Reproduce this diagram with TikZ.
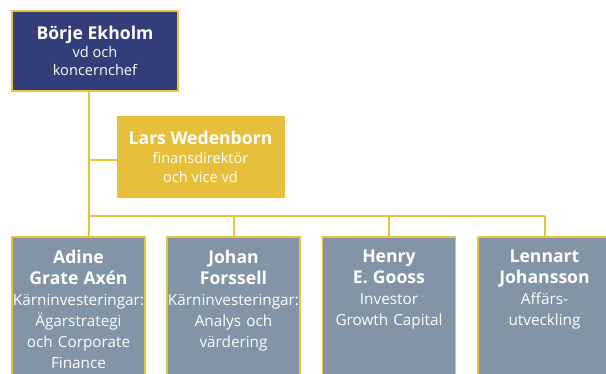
\documentclass[tikz,border=0pt]{standalone}
\usepackage{fontspec}
\setmainfont{Open Sans}
\usetikzlibrary{calc}
\definecolor{chefblue}{RGB}{51,61,122}
\definecolor{cfogold}{RGB}{230,192,58}
\definecolor{unitgrey}{RGB}{130,148,166}
\definecolor{linkgold}{RGB}{232,195,60}
\newcommand{\chefname}[1]{{\fontsize{17.6}{19}\selectfont\bfseries #1}}
\newcommand{\unitname}[1]{{\fontsize{17.6}{21}\selectfont\bfseries #1}}

\begin{document}
\begin{tikzpicture}[x=1pt,y=-1pt,
    link/.style={linkgold,line width=2pt},
    chef/.style={draw=linkgold,line width=1.5pt,fill=chefblue,text=white,
      minimum width=166pt,minimum height=80pt,inner sep=0pt,align=center,
      font=\fontsize{14.6}{18}\selectfont},
    cfo/.style={draw=cfogold,fill=cfogold,text=white,
      minimum width=167pt,minimum height=81pt,inner sep=0pt,align=center,
      font=\fontsize{14.6}{19}\selectfont},
    unit/.style={draw=linkgold,line width=1.5pt,fill=unitgrey,anchor=north,
      minimum width=133pt,minimum height=160pt,inner sep=0pt},
    unittext/.style={text=white,anchor=north,text width=133pt,inner sep=0pt,
      align=center,font=\fontsize{15.3}{21}\selectfont}]
            \useasboundingbox (0,0) rectangle (606,373);
            \clip (0,0) rectangle (606,373);

            % ledning
            \node[chef] (ekholm) at (95,51)
              {\chefname{Börje Ekholm}\\vd och\\koncernchef};
            \node[cfo] (wedenborn) at (200.5,157)
              {\chefname{Lars Wedenborn}\\finansdirektör\\och vice vd};

            % affärsområden
            \node[unit] (adine) at (78.5,236) {};
            \node[unit] (forssell) at (233.5,236) {};
            \node[unit] (gooss) at (389,236) {};
            \node[unit] (johansson) at (544.5,236) {};

            \node[unittext] (adine-t) at ($(adine.north)+(0,13.5)$)
              {\unitname{Adine}\\\unitname{Grate Axén}\\Kärninvesteringar:\\Ägarstrategi\\och Corporate\\Finance};
            \node[unittext] (forssell-t) at ($(forssell.north)+(0,13.5)$)
              {\unitname{Johan}\\\unitname{Forssell}\\Kärninvesteringar:\\Analys och\\värdering};
            \node[unittext] (gooss-t) at ($(gooss.north)+(0,13.5)$)
              {\unitname{Henry}\\\unitname{E. Gooss}\\Investor\\Growth Capital};
            \node[unittext] (johansson-t) at ($(johansson.north)+(0,13.5)$)
              {\unitname{Lennart}\\\unitname{Johansson}\\Affärs-\\utveckling};

            \coordinate (trunk) at (88.5,215.7);
            \coordinate (branch) at (88.5,159.7);

            \draw[link] (ekholm.south -| trunk) -- (trunk);
            \draw[link] (branch) -- (branch -| wedenborn.west);
            \draw[link] (trunk) -- (trunk -| johansson.north);
            \draw[link] (trunk) -- (adine.north -| trunk);
            \draw[link] (trunk -| forssell.north) -- (forssell.north);
            \draw[link] (trunk -| gooss.north) -- (gooss.north);
            \draw[link] (trunk -| johansson.north) -- (johansson.north);
\end{tikzpicture}
\end{document}
